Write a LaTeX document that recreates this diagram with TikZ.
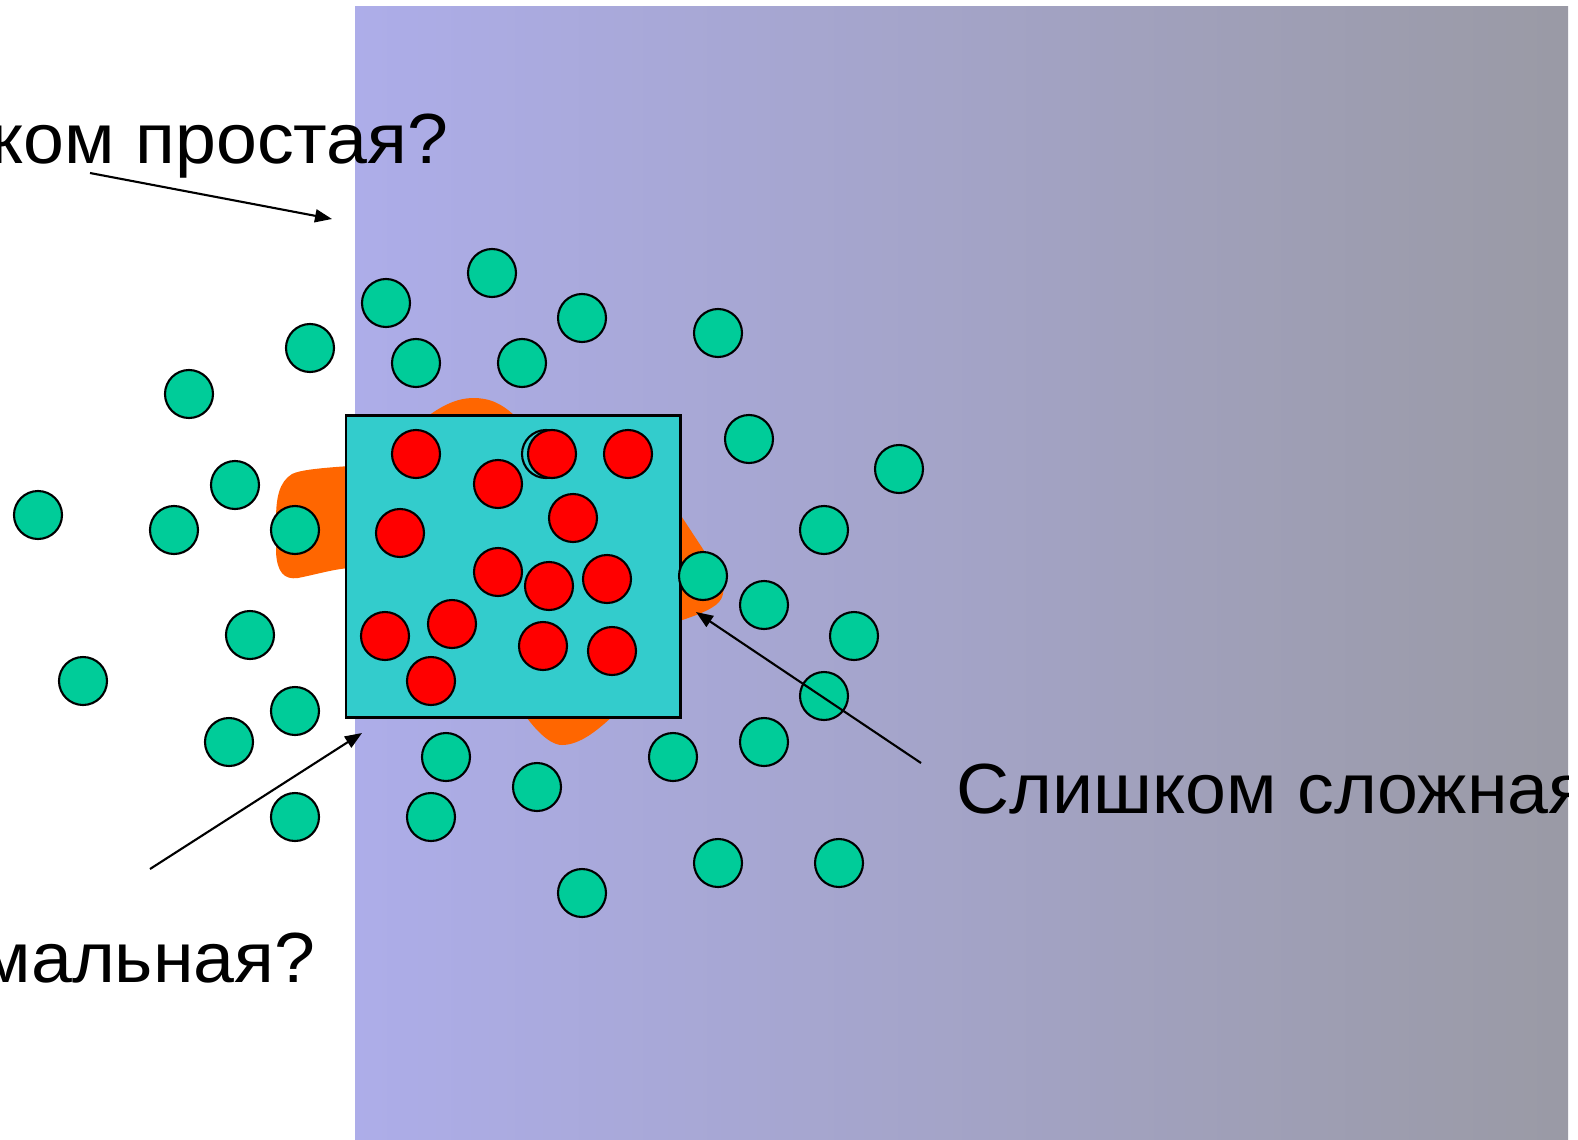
\documentclass[tikz,border=0pt]{standalone}
\usepackage{fontspec}
\setmainfont{Liberation Sans}
\usetikzlibrary{arrows.meta}

\definecolor{bglav}{RGB}{173,173,233}
\definecolor{bgmid}{RGB}{166,166,212}
\definecolor{bggrey}{RGB}{154,154,165}
\definecolor{boxcyan}{RGB}{51,204,204}
\definecolor{ballgreen}{RGB}{0,204,153}
\definecolor{ballred}{RGB}{255,0,0}
\definecolor{blobor}{RGB}{255,102,0}

\newcommand{\wide}[1]{\scalebox{1.035}[1]{#1}}

\tikzset{
  ball/.style={draw=black, line width=0.6pt},
  greenball/.style={ball, fill=ballgreen},
  redball/.style={ball, fill=ballred},
  pointer/.style={line width=0.6pt, -{Triangle[length=1.7mm,width=1.3mm]}},
  question/.style={inner sep=0pt, font=\fontsize{20.2pt}{24pt}\selectfont}
}

\begin{document}
\begin{tikzpicture}[x=0.1mm,y=-0.1mm]

\useasboundingbox (0,0) rectangle (1578,1139);
\clip (0,0) rectangle (1568,1139);

% background
\shade[left color=bglav, middle color=bgmid, right color=bggrey] (355,6) rectangle (1568,1139);

% orange blob behind the box
\fill[blobor] (350,466) .. controls (320,468) and (300,470) .. (292,474)
  .. controls (279,482) and (276,498) .. (276,520)
  -- (276,552)
  .. controls (277,572) and (284,580) .. (298,578)
  .. controls (318,574) and (334,569) .. (350,568)
  -- (515,700)
  .. controls (530,725) and (548,745) .. (562,745)
  .. controls (580,745) and (598,730) .. (615,714)
  -- (676,622)
  .. controls (692,617) and (712,610) .. (719,602)
  .. controls (726,594) and (724,582) .. (718,572)
  -- (676,508)
  -- (515,416)
  .. controls (500,402) and (488,398) .. (473,398)
  .. controls (458,398) and (443,405) .. (428,416)
  -- cycle;

% the box
\draw[line width=0.85pt, fill=boxcyan] (346,415) rectangle (680,717);

% red balls
\draw[ball] (546,454) circle[radius=2.4mm];
\foreach \p in {(416,454),(552,454),(628,454),(498,484),(573,518),(400,533),
                (498,572),(549,586),(607,579),(385,636),(452,624),(543,646),
                (612,651),(431,681)}
  \draw[redball] \p circle[radius=2.4mm];

% green balls
\foreach \p in {(386,303),(310,348),(189,394),(235,485),(38,515),(174,530),
                (295,530),(416,363),(492,273),(582,318),(522,363),(718,333),
                (749,439),(899,469),(824,530),(703,576),(250,635),(83,681),
                (295,711),(229,742),(295,817),(446,757),(431,817),(764,605),
                (854,636),(824,696),(764,742),(673,757),(537,787),(718,863),
                (839,863),(582,893)}
  \draw[greenball] \p circle[radius=2.4mm];

% labels
\node[question, anchor=base east] (simple) at (449,163) {\wide{Слишком простая?}};
\node[question, anchor=base east] (optimal) at (316,982) {\wide{Оптимальная?}};
\node[question, anchor=base west] (complex) at (956,813) {\wide{Слишком сложная?}};

% arrows
\coordinate (simple tail) at (90,173);
\coordinate (simple tip) at (332,219);
\coordinate (optimal tail) at (150,869);
\coordinate (optimal tip) at (362,733);
\coordinate (complex tail) at (921,763);
\coordinate (complex tip) at (696,612);
\draw[pointer] (simple tail) -- (simple tip);
\draw[pointer] (optimal tail) -- (optimal tip);
\draw[pointer] (complex tail) -- (complex tip);

\end{tikzpicture}
\end{document}
